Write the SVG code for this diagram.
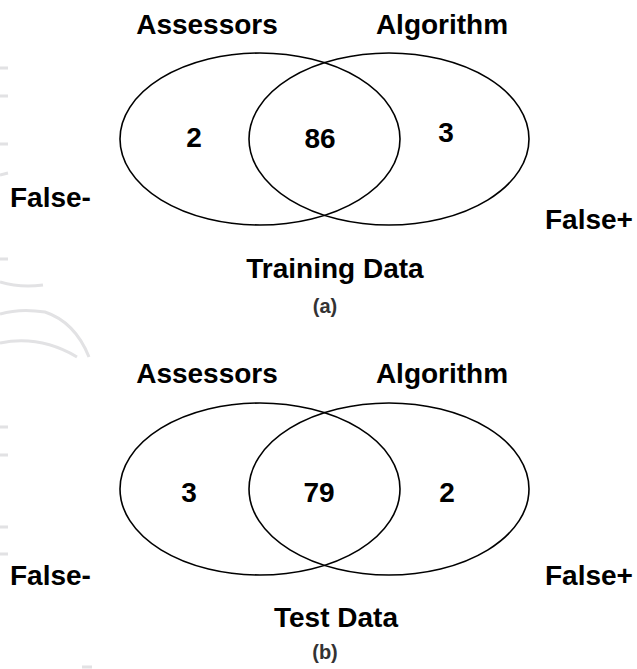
<svg xmlns="http://www.w3.org/2000/svg" width="637" height="669" viewBox="0 0 637 669">
  <style>
    .set { fill: none; stroke: #000; stroke-width: 1.6; }
    .lbl { font-family: "Liberation Sans", Arial, sans-serif; font-weight: bold; font-size: 28px; fill: #000; }
    .mid { text-anchor: middle; }
    .cap { font-family: "Liberation Sans", Arial, sans-serif; font-weight: bold; font-size: 20px; fill: #333; text-anchor: middle; }
    .wm { fill: none; stroke: #e2e2e4; stroke-width: 3; stroke-linecap: butt; }
  </style>
  <rect width="637" height="669" fill="#fff"/>
  <g id="watermark">
    <path class="wm" d="M0 68H8M0 96H8M0 144H8M0 175L8 173M0 259H8"/>
    <path class="wm" d="M0 282Q20 288 43 285"/>
    <path class="wm" d="M0 314Q20 308 45 312Q75 322 89 357"/>
    <path class="wm" d="M0 343Q40 335 77 357"/>
    <path class="wm" d="M0 427H8M0 455H8M0 527H8M0 554H8M82 667H92"/>
  </g>
  <g id="venn-a">
    <g id="a-assessors">
      <ellipse class="set" cx="260" cy="139" rx="140" ry="86"/>
      <text class="lbl mid" x="207" y="34">Assessors</text>
      <text class="lbl mid" x="194" y="147">2</text>
    </g>
    <g id="a-algorithm">
      <ellipse class="set" cx="389" cy="139" rx="140" ry="86"/>
      <text class="lbl mid" x="442" y="34">Algorithm</text>
      <text class="lbl mid" x="446" y="142">3</text>
    </g>
    <g id="a-overlap">
      <text class="lbl mid" x="320" y="148">86</text>
    </g>
    <g id="a-false-neg"><text class="lbl" x="10" y="207">False-</text></g>
    <g id="a-false-pos"><text class="lbl" x="545" y="229">False+</text></g>
    <g id="a-title">
      <text class="lbl mid" x="335" y="278">Training Data</text>
      <text class="cap" x="325" y="313">(a)</text>
    </g>
  </g>
  <g id="venn-b">
    <g id="b-assessors">
      <ellipse class="set" cx="260" cy="489" rx="140" ry="86"/>
      <text class="lbl mid" x="207" y="383">Assessors</text>
      <text class="lbl mid" x="189" y="502">3</text>
    </g>
    <g id="b-algorithm">
      <ellipse class="set" cx="389" cy="489" rx="140" ry="86"/>
      <text class="lbl mid" x="442" y="383">Algorithm</text>
      <text class="lbl mid" x="447" y="502">2</text>
    </g>
    <g id="b-overlap">
      <text class="lbl mid" x="319" y="502">79</text>
    </g>
    <g id="b-false-neg"><text class="lbl" x="10" y="585">False-</text></g>
    <g id="b-false-pos"><text class="lbl" x="545" y="585">False+</text></g>
    <g id="b-title">
      <text class="lbl mid" x="336" y="627">Test Data</text>
      <text class="cap" x="325" y="659">(b)</text>
    </g>
  </g>
  <g id="connectors"/>
</svg>
